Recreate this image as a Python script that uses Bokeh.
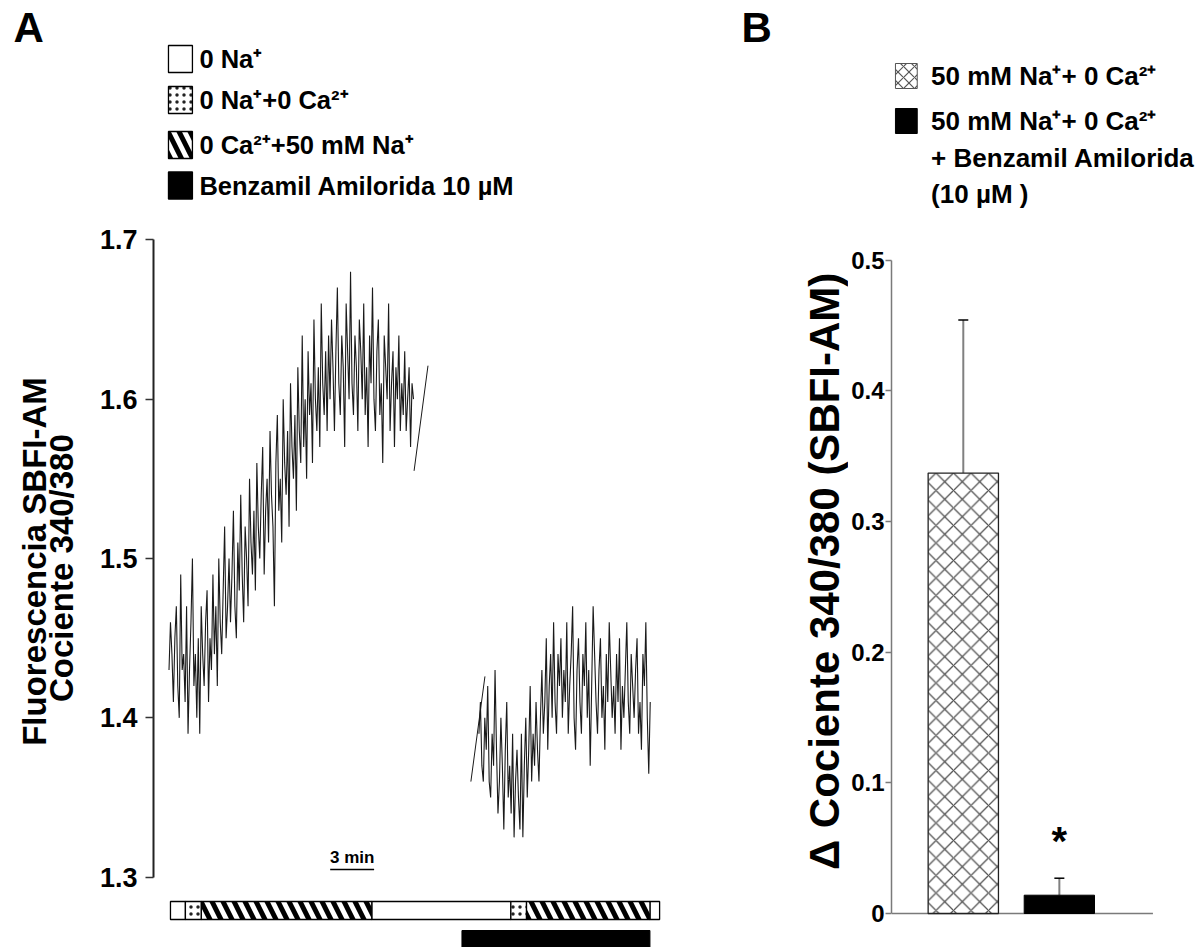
import numpy as np
from bokeh.plotting import figure
from bokeh.models import Range1d, FixedTicker, Label, Whisker, ColumnDataSource, TeeHead
from bokeh.layouts import row
from bokeh.embed import file_html
from bokeh.resources import INLINE

# ------------------------------------------------------------------ data
# Panel A: SBFI-AM 340/380 ratio trace (time in minutes, sampled every 0.1 min)
trace1_start = -0.1
trace2_start = 21.07
trace_step = 0.1
trace1 = [
    1.43, 1.46, 1.44, 1.41, 1.45, 1.47, 1.42, 1.40, 1.49, 1.43,
    1.44, 1.41, 1.47, 1.39, 1.43, 1.46, 1.50, 1.42, 1.44, 1.40,
    1.45, 1.39, 1.47,
    1.44, 1.42, 1.46, 1.48, 1.41, 1.45, 1.43, 1.49, 1.44, 1.47,
    1.42, 1.50, 1.46, 1.44, 1.48, 1.52, 1.45, 1.47, 1.50, 1.46,
    1.49, 1.53, 1.47, 1.45, 1.51, 1.48, 1.54, 1.49, 1.46, 1.52,
    1.50, 1.47, 1.55, 1.51, 1.49, 1.53, 1.48, 1.56, 1.52, 1.50,
    1.54, 1.57, 1.49, 1.53, 1.55, 1.51, 1.58, 1.54, 1.52, 1.47,
    1.56, 1.59, 1.53, 1.55, 1.51, 1.60, 1.56, 1.54, 1.58, 1.52,
    1.61, 1.57, 1.55, 1.59, 1.53, 1.62, 1.58, 1.56, 1.64, 1.57,
    1.60, 1.55, 1.63, 1.59, 1.61, 1.56, 1.65, 1.60, 1.58, 1.62,
    1.57, 1.66, 1.61, 1.59, 1.63, 1.58, 1.64,
    1.60, 1.65, 1.62, 1.58, 1.63, 1.67, 1.61, 1.59, 1.64, 1.62,
    1.57, 1.66, 1.63, 1.60, 1.68, 1.61, 1.59, 1.64, 1.62, 1.58,
    1.65, 1.63, 1.60, 1.66, 1.59, 1.62, 1.57, 1.64, 1.61, 1.67,
    1.60, 1.58, 1.63, 1.65, 1.59, 1.61, 1.56, 1.64, 1.62, 1.60,
    1.66, 1.58, 1.61, 1.63, 1.57, 1.62, 1.60, 1.64, 1.58, 1.61,
    1.59, 1.63, 1.58, 1.60, 1.62, 1.57, 1.61, 1.60,
]
trace2 = [
    1.39, 1.41, 1.37, 1.36, 1.40, 1.38, 1.42, 1.36, 1.35, 1.39,
    1.37, 1.43, 1.38, 1.34, 1.36, 1.40, 1.37, 1.33, 1.38, 1.41,
    1.35, 1.37, 1.34, 1.39, 1.325, 1.36, 1.38, 1.35, 1.33, 1.39,
    1.325, 1.37, 1.40, 1.35, 1.38, 1.42, 1.36, 1.39, 1.37, 1.41,
    1.38, 1.36, 1.40,
    1.43, 1.39, 1.41, 1.45, 1.38, 1.42, 1.44, 1.40, 1.46, 1.41,
    1.39, 1.44, 1.42, 1.45, 1.40,
    1.43, 1.41, 1.46, 1.39, 1.42, 1.44, 1.47, 1.40, 1.38, 1.43,
    1.45, 1.41, 1.39, 1.44, 1.42, 1.46, 1.40, 1.43, 1.37, 1.42,
    1.47, 1.44, 1.41, 1.39, 1.43, 1.45, 1.40, 1.42, 1.38, 1.44,
    1.41, 1.46, 1.43, 1.40, 1.42, 1.39, 1.44, 1.41, 1.45, 1.38,
    1.42, 1.40, 1.43, 1.46, 1.41, 1.39, 1.44, 1.42, 1.40, 1.43,
    1.45, 1.39, 1.41, 1.38, 1.44, 1.42, 1.46, 1.40, 1.365, 1.41,
]
# short straight segments at the solution changes
jump1_t = [16.64, 17.59]
jump1_v = [1.555, 1.621]
jump2_t = [20.52, 21.48]
jump2_v = [1.360, 1.426]

# perfusion protocol bar (minutes)
stim_kind = ["none", "dot", "stripe", "none", "dot", "stripe", "none"]
stim_start = [0.00, 1.02, 2.11, 13.75, 23.25, 24.32, 32.75]
stim_end = [1.02, 2.11, 13.75, 23.25, 24.32, 32.75, 33.41]
benz_start = 19.91
benz_end = 32.75
scale_start = 10.91
scale_len = 3.0
scale_text = "3 min"

legendA_kinds = ["none", "dot", "stripe", "black"]
legendA_labels = ["0 Na⁺", "0 Na⁺+0 Ca²⁺", "0 Ca²⁺+50 mM Na⁺", "Benzamil Amilorida 10 µM"]

ticks_A = [1.3, 1.4, 1.5, 1.6, 1.7]
ylabelA_1 = "Fluorescencia SBFI-AM"
ylabelA_2 = "Cociente  340/380"

# Panel B
bar_pos = [1, 2]
bar_means = [0.337, 0.014]
bar_errs = [0.117, 0.013]
legendB_lines = [["50 mM Na⁺+ 0 Ca²⁺"],
                 ["50 mM Na⁺+ 0 Ca²⁺", "+ Benzamil Amilorida", "(10 µM )"]]
ticks_B = [0, 0.1, 0.2, 0.3, 0.4, 0.5]
tick_labels_B = ["0", "0.1", "0.2", "0.3", "0.4", "0.5"]
ylabelB = "Δ Cociente  340/380 (SBFI-AM)"
signif = "*"

# ------------------------------------------------------------------ layout helpers
FONT = "Liberation Sans"
PX_MIN = 44.0 / 3.0          # pixels per minute
H = 947
XA0, XA1 = 96, 708           # panel A figure (page px)
XB0, XB1 = 848, 1197         # panel B figure (page px)


def ax(px):   # page pixel -> panel A time
    return (px - 169.0) / PX_MIN


def ay(py):   # page pixel -> panel A ratio
    return 1.7 - (py - 239.3) / 1593.5


def bx(px):
    return 1 + (px - 960.5) / 97.0


def by(py):
    return (913.0 - py) / 1307.0


def txt(x, y, s, size, **kw):
    d = dict(x=x, y=y, text=s, text_font=FONT, text_font_style="bold", text_font_size=size,
             text_color="black", text_baseline="middle", text_align="left")
    d.update(kw)
    return Label(**d)


def blank_fig(x0, x1):
    f = figure(width=x1 - x0, height=H, output_backend="svg", toolbar_location=None,
               x_range=Range1d(x0, x1), y_range=Range1d(H, 0),
               x_axis_location=None, y_axis_location=None,
               min_border_left=0, min_border_right=0, min_border_top=0, min_border_bottom=0)
    f.outline_line_color = None
    f.grid.visible = False
    return f


STYLE = {
    "none": dict(fill_color="white"),
    "dot": dict(fill_color="white", hatch_pattern="dot", hatch_scale=7, hatch_weight=1.6, hatch_color="#222"),
    "stripe": dict(fill_color="white", hatch_pattern="left_diagonal_line", hatch_scale=22, hatch_weight=5, hatch_color="black"),
    "black": dict(fill_color="black"),
}

# ------------------------------------------------------------------ left label column
pLA = blank_fig(0, XA0)
pLA.add_layout(txt(13, 27, "A", "42px"))
pLA.add_layout(txt(34, 561, ylabelA_1, "33px", angle=np.pi / 2, text_align="center"))
pLA.add_layout(txt(61, 563, ylabelA_2, "33px", angle=np.pi / 2, text_align="center"))

# ------------------------------------------------------------------ panel A
pA = figure(width=XA1 - XA0, height=H, output_backend="svg", toolbar_location=None,
            x_range=Range1d(ax(152), ax(XA1)), y_range=Range1d(ay(H), ay(0)),
            x_axis_location=None, min_border_left=152 - XA0, min_border_right=0,
            min_border_top=0, min_border_bottom=0)
pA.outline_line_color = None
pA.grid.visible = False
ya = pA.yaxis[0]
ya.ticker = FixedTicker(ticks=ticks_A)
ya.bounds = (1.3, 1.7)
ya.axis_line_width = 2
ya.axis_line_color = "#222"
ya.major_tick_line_color = "#333"
ya.major_tick_line_width = 1.5
ya.major_tick_out = 8
ya.major_tick_in = 0
ya.minor_tick_line_color = None
ya.major_label_standoff = 8
ya.major_label_text_font = FONT
ya.major_label_text_font_style = "bold"
ya.major_label_text_font_size = "27px"
ya.major_label_text_color = "black"

t1 = [trace1_start + trace_step * i for i in range(len(trace1))]
t2 = [trace2_start + trace_step * i for i in range(len(trace2))]
pA.line(t1, trace1, line_color="#1a1a1a", line_width=1.1)
pA.line(t2, trace2, line_color="#1a1a1a", line_width=1.1)
pA.line(jump1_t, jump1_v, line_color="#1a1a1a", line_width=1)
pA.line(jump2_t, jump2_v, line_color="#1a1a1a", line_width=1)

# protocol bar
for kind in ["none", "dot", "stripe"]:
    L = [s for s, k in zip(stim_start, stim_kind) if k == kind]
    R = [e for e, k in zip(stim_end, stim_kind) if k == kind]
    pA.quad(left=L, right=R, top=ay(901), bottom=ay(919), line_color="black", line_width=1.3, **STYLE[kind])
pA.quad(left=[benz_start], right=[benz_end], top=ay(930), bottom=ay(950), line_color="black", fill_color="black")

# scale bar
pA.line([scale_start, scale_start + scale_len], [ay(869), ay(869)], line_color="black", line_width=1.3)
pA.add_layout(txt(scale_start + scale_len / 2, ay(857), scale_text, "17px", text_align="center"))

# legend A
rowsA = [58.5, 99.5, 144.5, 185.0]
for kind, lab, cy in zip(legendA_kinds, legendA_labels, rowsA):
    pA.quad(left=[ax(167)], right=[ax(191)], top=[ay(cy - 13.5)], bottom=[ay(cy + 13.5)],
            line_color="black", line_width=1.3, **STYLE[kind])
    pA.add_layout(txt(ax(198), ay(cy), lab, "25.5px"))

# ------------------------------------------------------------------ middle label column
pLB = blank_fig(XA1, XB0)
pLB.add_layout(txt(741, 27, "B", "42px"))
pLB.add_layout(txt(824, 565, ylabelB, "42px", angle=np.pi / 2, text_align="center"))

# ------------------------------------------------------------------ panel B
pB = figure(width=XB1 - XB0, height=H, output_backend="svg", toolbar_location=None,
            x_range=Range1d(bx(888), bx(XB1)), y_range=Range1d(by(H), by(0)),
            x_axis_location=None, min_border_left=888 - XB0, min_border_right=0,
            min_border_top=0, min_border_bottom=0)
pB.outline_line_color = None
pB.grid.visible = False
yb = pB.yaxis[0]
yb.ticker = FixedTicker(ticks=ticks_B)
yb.major_label_overrides = {t: s for t, s in zip(ticks_B, tick_labels_B)}
yb.bounds = (0, 0.5)
yb.axis_line_color = "#7a7a7a"
yb.axis_line_width = 1.5
yb.major_tick_line_color = "#7a7a7a"
yb.major_tick_line_width = 1.5
yb.major_tick_out = 6
yb.major_tick_in = 0
yb.minor_tick_line_color = None
yb.major_label_standoff = 1
yb.major_label_text_font = FONT
yb.major_label_text_font_style = "bold"
yb.major_label_text_font_size = "24px"
yb.major_label_text_color = "black"

# baseline of the bar chart
pB.line([bx(888), bx(1152)], [0, 0], line_color="#7a7a7a", line_width=1.5)

BW = 71.0 / 97.0
pB.vbar(x=[bar_pos[0]], top=[bar_means[0]], width=BW, bottom=0, fill_color="white",
        line_color="#222", line_width=1.3, hatch_pattern="diagonal_cross", hatch_scale=17.5,
        hatch_weight=1.3, hatch_color="#555")
pB.vbar(x=[bar_pos[1]], top=[bar_means[1]], width=BW, bottom=0, fill_color="black",
        line_color="black")
src = ColumnDataSource(dict(base=bar_pos, lower=bar_means,
                            upper=[m + e for m, e in zip(bar_means, bar_errs)]))
pB.add_layout(Whisker(source=src, base="base", lower="lower", upper="upper", dimension="height",
                      line_color="#808080", line_width=2, lower_head=None,
                      upper_head=TeeHead(size=10, line_color="black", line_width=1.5)))
pB.add_layout(txt(bar_pos[1], by(835), signif, "40px", text_align="center", y_offset=-5))

# legend B
boxB = [(63, 88, "cross"), (108, 133, "black")]
rowsB = [[75], [120, 157, 193]]
for (t, b, kind), lines, ys in zip(boxB, legendB_lines, rowsB):
    if kind == "cross":
        pB.quad(left=[bx(892)], right=[bx(914)], top=[by(t)], bottom=[by(b)], fill_color="white",
                line_color="#555", line_width=1, hatch_pattern="diagonal_cross", hatch_scale=11,
                hatch_weight=1.2, hatch_color="#555")
    else:
        pB.quad(left=[bx(892)], right=[bx(914)], top=[by(t)], bottom=[by(b)], fill_color="black",
                line_color="black")
    for s, yy in zip(lines, ys):
        pB.add_layout(txt(bx(928), by(yy), s, "26px"))

layout = row(pLA, pA, pLB, pB)
open("out.html", "w").write(file_html(layout, INLINE))
